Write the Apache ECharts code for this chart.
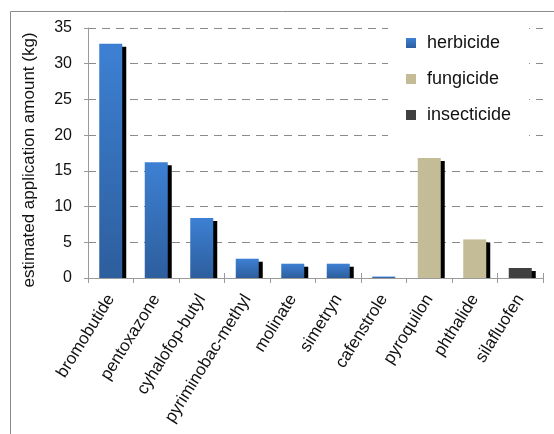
<!DOCTYPE html>
<html>
<head>
<meta charset="utf-8">
<script src="https://cdn.jsdelivr.net/npm/echarts@6/dist/echarts.min.js"></script>
<style>
  html, body { margin: 0; padding: 0; background: #fff; }
  #chart { width: 554px; height: 434px; }
</style>
</head>
<body>
<div id="chart"></div>
<script>
// Pesticide names along the category axis
const pesticides = ['bromobutide', 'pentoxazone', 'cyhalofop-butyl', 'pyriminobac-methyl',
  'molinate', 'simetryn', 'cafenstrole', 'pyroquilon', 'phthalide', 'silafluofen'];

// Estimated application amount (kg) per class; null where the pesticide is another class
const herbicide   = [32.8, 16.2, 8.4, 2.7, 2.0, 2.0, 0.2, null, null, null];
const fungicide   = [null, null, null, null, null, null, null, 16.8, 5.4, null];
const insecticide = [null, null, null, null, null, null, null, null, null, 1.4];

const yTicks = { min: 0, max: 35, step: 5 };

const FONT = 'Liberation Sans, Arial, sans-serif';
const AXIS_GREY = '#9a9a9a';

const chart = echarts.init(document.getElementById('chart'), null, { renderer: 'canvas' });

// hard drop shadow to the lower right of every bar
const shadow = { shadowColor: '#000', shadowBlur: 0, shadowOffsetX: 4, shadowOffsetY: 3 };

function barSeries(name, data, style) {
  return {
    name: name,
    type: 'bar',
    stack: 'amount',
    data: data,
    barWidth: 23,
    z: 2,
    itemStyle: Object.assign({}, shadow, style),
    emphasis: { disabled: true }
  };
}

chart.setOption({
  animation: false,
  textStyle: { fontFamily: FONT },
  graphic: [{
    type: 'rect',
    shape: { x: 10.5, y: 11.5, width: 600, height: 500 },
    style: { fill: 'none', stroke: '#8c8c8c', lineWidth: 1 },
    silent: true,
    z: -10
  }],
  grid: { left: 88, right: 11, top: 28, bottom: 156 },
  legend: {
    orient: 'vertical',
    left: 388,
    top: 22,
    padding: [12, 18, 12, 18],
    backgroundColor: '#fff',
    icon: 'rect',
    itemWidth: 10,
    itemHeight: 10,
    itemGap: 18,
    textStyle: { fontSize: 18, color: '#111', fontFamily: FONT, padding: [0, 0, 0, 6] },
    data: ['herbicide', 'fungicide', 'insecticide'],
    z: 5
  },
  xAxis: [{
    // main category axis: line, outward ticks and rotated names
    type: 'category',
    data: pesticides,
    z: 4,
    axisLine: { show: true, lineStyle: { color: AXIS_GREY, width: 1 } },
    axisTick: { show: true, length: 5, lineStyle: { color: AXIS_GREY } },
    axisLabel: { rotate: 58, fontSize: 17, color: '#111', margin: 18, interval: 0, fontFamily: FONT }
  }, {
    // inward half of the crossing tick marks
    type: 'category',
    data: pesticides,
    position: 'bottom',
    z: 4,
    axisLine: { show: false },
    axisTick: { show: true, inside: true, length: 5, lineStyle: { color: AXIS_GREY } },
    axisLabel: { show: false }
  }, {
    // white band under the baseline so bar shadows stop at the axis
    type: 'category',
    data: pesticides,
    position: 'bottom',
    offset: 3,
    z: 3,
    axisLine: { show: true, lineStyle: { color: '#fff', width: 5 } },
    axisTick: { show: false },
    axisLabel: { show: false }
  }],
  yAxis: {
    type: 'value',
    min: yTicks.min,
    max: yTicks.max,
    interval: yTicks.step,
    name: 'estimated application amount (kg)',
    nameLocation: 'middle',
    nameGap: 50,
    nameTextStyle: { fontSize: 17, color: '#111', fontFamily: FONT, padding: [0, 14, 0, 0] },
    axisLine: { show: true, lineStyle: { color: AXIS_GREY } },
    axisTick: { show: true, length: 4, lineStyle: { color: AXIS_GREY } },
    axisLabel: { fontSize: 16, color: '#111', margin: 16, fontFamily: FONT },
    splitLine: { show: true, lineStyle: { color: '#8a8a8a', type: [8, 6], width: 1 } }
  },
  series: [
    barSeries('herbicide', herbicide, {
      color: new echarts.graphic.LinearGradient(0, 0, 0, 1, [
        { offset: 0, color: '#3d80d3' },
        { offset: 1, color: '#2d5e9d' }
      ])
    }),
    barSeries('fungicide', fungicide, { color: '#c4bc96' }),
    barSeries('insecticide', insecticide, { color: '#404040' })
  ]
});
</script>
</body>
</html>
